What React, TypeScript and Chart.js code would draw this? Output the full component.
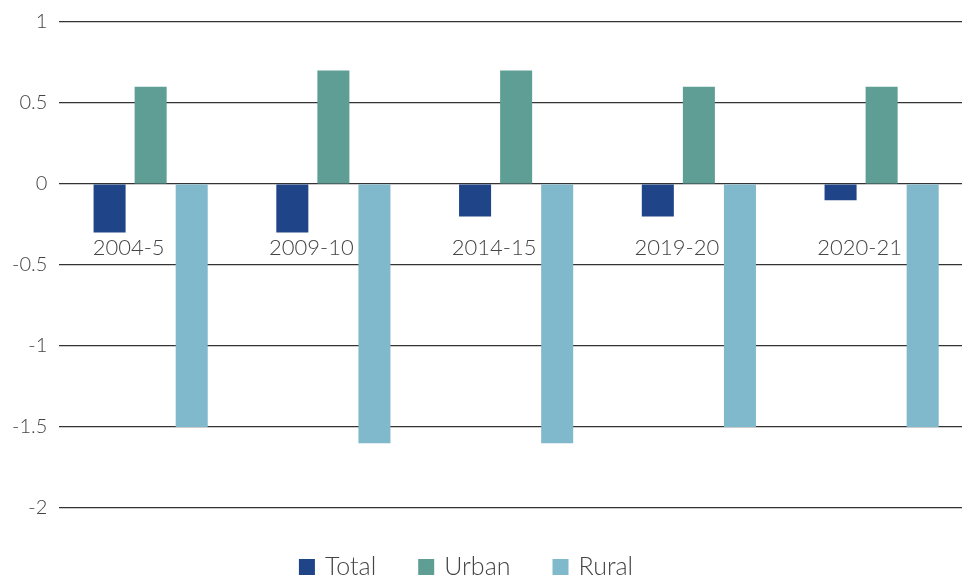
import React, { useEffect, useRef } from "react";
import { Chart, registerables } from "chart.js";

Chart.register(...registerables);

const categories = ["2004-5", "2009-10", "2014-15", "2019-20", "2020-21"];
const totalValues = [-0.3, -0.3, -0.2, -0.2, -0.1];
const urbanValues = [0.6, 0.7, 0.7, 0.6, 0.6];
const ruralValues = [-1.5, -1.6, -1.6, -1.5, -1.5];
const seriesNames = ["Total", "Urban", "Rural"];
const seriesColors = ["#1f4488", "#5e9e94", "#80b8cc"];

const FONT = "Lato, 'Open Sans', sans-serif";
const VIEW_W = 962;
const CANVAS_W = 973;
const H = 578;

const categoryLabelPlugin = {
  id: "categoryLabels",
  afterDatasetsDraw(chart: any) {
    const { ctx, scales } = chart;
    const x = scales.x;
    const y = scales.y;
    ctx.save();
    ctx.font = `300 22px ${FONT}`;
    ctx.fillStyle = "#444444";
    ctx.textAlign = "center";
    ctx.textBaseline = "middle";
    categories.forEach((c, i) => {
      ctx.fillText(c, x.getPixelForValue(i) - 22, y.getPixelForValue(0) + 64);
    });
    ctx.restore();
  },
};

const customLegendPlugin = {
  id: "customLegend",
  afterDraw(chart: any) {
    const { ctx } = chart;
    ctx.save();
    ctx.font = `300 25px ${FONT}`;
    ctx.textBaseline = "middle";
    ctx.textAlign = "left";
    const box = 16;
    const gapText = 10;
    const gapItem = 42;
    const widths = seriesNames.map((n) => ctx.measureText(n).width);
    const total =
      widths.reduce((a, w) => a + box + gapText + w, 0) + gapItem * (seriesNames.length - 1);
    let x = VIEW_W / 2 - total / 2 - 15;
    const cy = 567;
    seriesNames.forEach((n, i) => {
      ctx.fillStyle = seriesColors[i];
      ctx.fillRect(x, cy - box / 2, box, box);
      ctx.fillStyle = "#444444";
      ctx.fillText(n, x + box + gapText, cy);
      x += box + gapText + widths[i] + gapItem;
    });
    ctx.restore();
  },
};

export default function App() {
  const ref = useRef<HTMLCanvasElement>(null);
  useEffect(() => {
    if (!ref.current) return;
    const chart = new Chart(ref.current, {
      type: "bar",
      data: {
        labels: categories,
        datasets: seriesNames.map((name, i) => ({
          label: name,
          data: [totalValues, urbanValues, ruralValues][i],
          backgroundColor: seriesColors[i],
        })),
      },
      options: {
        animation: false,
        responsive: false,
        maintainAspectRatio: false,
        layout: { padding: { top: -2, right: 0, left: 0, bottom: 70 } },
        datasets: { bar: { categoryPercentage: 0.674, barPercentage: 0.78 } },
        scales: {
          x: {
            display: false,
          },
          y: {
            min: -2,
            max: 1,
            ticks: {
              stepSize: 0.5,
              color: "#444444",
              font: { family: FONT, size: 20, weight: "300", lineHeight: 1.0 },
              padding: 12,
              callback: (v: any) => String(Number(v)),
            },
            grid: { color: "#333333", lineWidth: 1.2, drawTicks: false },
            border: { display: false },
          },
        },
        plugins: {
          legend: { display: false },
          tooltip: { enabled: false },
        },
      },
      plugins: [categoryLabelPlugin, customLegendPlugin],
    });
    return () => chart.destroy();
  }, []);
  return (
    <div
      style={{
        position: "absolute",
        left: 0,
        top: 0,
        width: VIEW_W,
        height: H,
        overflow: "hidden",
        background: "#fff",
      }}
    >
      <canvas ref={ref} width={CANVAS_W} height={H} style={{ display: "block" }} />
    </div>
  );
}
